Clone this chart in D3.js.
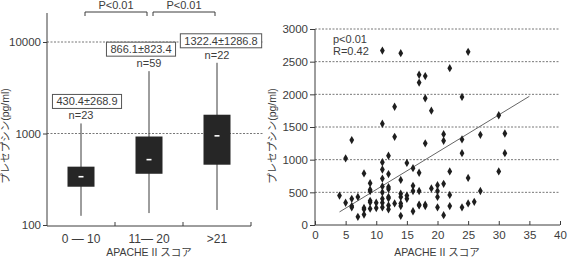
<!DOCTYPE html>
<html>
<head>
<meta charset="utf-8">
<script src="https://cdn.jsdelivr.net/npm/d3@7"></script>
<style>
  body { margin: 0; background: #fff; }
  svg { display: block; }
  text { font-family: "Liberation Sans", Arial, "Noto Sans CJK JP", sans-serif; fill: #3c3c3c; }
  .jp { font-family: "Liberation Sans", "Noto Sans CJK JP", sans-serif; }
</style>
</head>
<body>
<svg id="chart" width="568" height="268"></svg>
<script>
// left panel: presepsin by APACHE II group (log scale box plot)
const groups = ['0 \u2014 10', '11\u2014 20', '>21'];
const boxLow = [126, 135, 146];
const boxQ1 = [262, 363, 456];
const boxMedian = [337, 518, 943];
const boxQ3 = [434, 927, 1604];
const boxHigh = [1288, 4800, 5926];
const meanSd = ['430.4\u00b1268.9', '866.1\u00b1823.4', '1322.4\u00b11286.8'];
const groupN = ['n=23', 'n=59', 'n=22'];
const logTicks = [100, 1000, 10000];
const pairs = [[0, 1], [1, 2]];
const pLabels = ['P<0.01', 'P<0.01'];

// right panel: APACHE II score vs presepsin
const score = [4, 5, 5, 6, 6, 6, 6, 7, 7, 8, 8, 8, 8, 9, 9, 9, 9, 9, 9, 10, 10,
  11, 11, 11, 11, 11, 11, 11, 11, 11, 11, 12, 12, 12, 12, 12, 12, 12, 12,
  13, 13, 13, 14, 14, 14, 14, 14, 14, 14, 15, 15, 15, 16, 16, 16, 16,
  17, 17, 17, 17, 17, 17, 18, 18, 18, 18, 18, 19, 19, 20, 20, 20, 20,
  21, 21, 21, 21, 22, 22, 22, 22, 24, 24, 24, 24, 25, 25, 25, 26, 27, 27,
  30, 30, 31, 31];
const presepsin = [450, 1020, 340, 1300, 400, 290, 270, 430, 125, 790, 260, 240, 160, 640, 540, 520, 370, 350, 250, 340, 260,
  2670, 1550, 960, 850, 710, 590, 500, 400, 340, 270, 1060, 780, 580, 550, 430, 410, 300, 240,
  1810, 1350, 330, 2630, 690, 480, 430, 330, 290, 140, 950, 450, 400, 870, 600, 520, 210,
  2300, 2180, 800, 520, 310, 300, 2280, 1940, 1250, 310, 290, 1750, 560, 610, 520, 430, 270,
  1390, 1290, 630, 150, 2400, 820, 460, 290, 1960, 1310, 1100, 270, 2650, 720, 330, 355, 1380, 520,
  1680, 820, 1400, 1100];
const trendX = [4, 35];
const trendY = [200, 1970];
const scoreTicks = [0, 5, 10, 15, 20, 25, 30, 35, 40];
const linearTicks = [0, 500, 1000, 1500, 2000, 2500, 3000];

const svg = d3.select('svg#chart');
const ink = '#3c3c3c';

// ---------- left panel ----------
const xBand = d3.scaleBand().domain(groups).range([47, 251]);
const yLog = d3.scaleLog().domain([100, 10000]).range([225, 42]);
const cx = (d) => xBand(d) + xBand.bandwidth() / 2;

svg.append('g')
  .selectAll('line')
  .data(logTicks.slice(1))
  .join('line')
  .attr('x1', 47).attr('x2', 263)
  .attr('y1', (d) => yLog(d)).attr('y2', (d) => yLog(d))
  .attr('stroke', '#777')
  .attr('stroke-dasharray', '2,1.5');

const yAxisL = svg.append('g')
  .attr('transform', 'translate(47,0)')
  .call(d3.axisLeft(yLog).tickValues(logTicks).tickFormat(d3.format('d')).tickSize(4).tickPadding(2));
yAxisL.select('.domain').remove();

const xAxisL = svg.append('g')
  .attr('transform', 'translate(0,226)')
  .call(d3.axisBottom(xBand).tickSize(0).tickPadding(8));
xAxisL.select('.domain').remove();
xAxisL.selectAll('.tick text').attr('class', 'cat');

// band edge ticks pointing up
svg.append('g')
  .selectAll('line')
  .data(groups)
  .join('line')
  .attr('x1', (d) => xBand(d) + xBand.bandwidth())
  .attr('x2', (d) => xBand(d) + xBand.bandwidth())
  .attr('y1', 226).attr('y2', 222)
  .attr('stroke', ink);

svg.append('line').attr('x1', 47).attr('x2', 47).attr('y1', 13).attr('y2', 226).attr('stroke', ink);
svg.append('line').attr('x1', 47).attr('x2', xBand.range()[1]).attr('y1', 226).attr('y2', 226).attr('stroke', ink);

const boxW = 27;
const boxes = svg.append('g');
groups.forEach((g, i) => {
  const x = cx(g);
  boxes.append('line')
    .attr('x1', x).attr('x2', x)
    .attr('y1', yLog(boxHigh[i])).attr('y2', yLog(boxLow[i]))
    .attr('stroke', ink);
  boxes.append('rect')
    .attr('x', x - boxW / 2).attr('width', boxW)
    .attr('y', yLog(boxQ3[i])).attr('height', yLog(boxQ1[i]) - yLog(boxQ3[i]))
    .attr('fill', '#262626');
  boxes.append('line')
    .attr('x1', x - 2.5).attr('x2', x + 2.5)
    .attr('y1', yLog(boxMedian[i])).attr('y2', yLog(boxMedian[i]))
    .attr('stroke', '#fff').attr('stroke-width', 1.6);
});

// mean±SD boxes and n labels
const labelShift = [6, -8, 4];
groups.forEach((g, i) => {
  const top = yLog(boxHigh[i]);
  boxes.append('text')
    .attr('x', cx(g)).attr('y', top - 4)
    .attr('text-anchor', 'middle')
    .attr('font-size', '11px')
    .text(groupN[i]);
  const lx = cx(g) + labelShift[i];
  const t = boxes.append('text')
    .attr('x', lx).attr('y', top - 18)
    .attr('text-anchor', 'middle')
    .attr('font-size', '11px')
    .text(meanSd[i]);
  const w = t.node().getComputedTextLength() + 8;
  boxes.insert('rect', () => t.node())
    .attr('x', lx - w / 2).attr('width', w)
    .attr('y', top - 29).attr('height', 14)
    .attr('fill', '#fff')
    .attr('stroke', '#555');
});

// significance brackets
pairs.forEach((p, i) => {
  const x1 = cx(groups[p[0]]) + 4;
  const x2 = cx(groups[p[1]]) - 2;
  svg.append('path')
    .attr('d', `M${x1},16V12H${x2}V16`)
    .attr('fill', 'none')
    .attr('stroke', ink);
  svg.append('text')
    .attr('x', (x1 + x2) / 2).attr('y', 9)
    .attr('text-anchor', 'middle')
    .attr('font-size', '11px')
    .text(pLabels[i]);
});

svg.append('text')
  .attr('class', 'jp')
  .attr('x', 149).attr('y', 256)
  .attr('text-anchor', 'middle')
  .attr('font-size', '10.5px')
  .text('APACHE II スコア');

svg.append('text')
  .attr('class', 'jp')
  .attr('transform', 'translate(9,136) rotate(-90)')
  .attr('text-anchor', 'middle')
  .attr('font-size', '10.5px')
  .text('プレセプシン(pg/ml)');

// ---------- right panel ----------
const xLin = d3.scaleLinear().domain([0, 40]).range([315, 560]);
const yLin = d3.scaleLinear().domain([0, 3000]).range([225, 29]);

svg.append('g')
  .selectAll('line')
  .data(linearTicks.slice(1))
  .join('line')
  .attr('x1', 315).attr('x2', 560)
  .attr('y1', (d) => yLin(d)).attr('y2', (d) => yLin(d))
  .attr('stroke', '#777')
  .attr('stroke-dasharray', '2,1.5');

const yAxisR = svg.append('g')
  .attr('transform', 'translate(315,0)')
  .call(d3.axisLeft(yLin).tickValues(linearTicks).tickFormat(d3.format('d')).tickSize(5).tickPadding(2));
yAxisR.select('.domain').remove();

const xAxisR = svg.append('g')
  .attr('transform', 'translate(0,225)')
  .call(d3.axisBottom(xLin).tickValues(scoreTicks).tickSize(-4).tickPadding(6));
xAxisR.select('.domain').remove();

svg.append('line').attr('x1', 315).attr('x2', 315).attr('y1', 29).attr('y2', 225).attr('stroke', ink);
svg.append('line').attr('x1', 315).attr('x2', 560).attr('y1', 225).attr('y2', 225).attr('stroke', ink);

svg.selectAll('.tick text').attr('font-size', '11.5px').attr('fill', ink);
svg.selectAll('.tick text.cat').attr('font-size', '12px').attr('dy', '0.75em');
svg.selectAll('.tick line').attr('stroke', ink);

svg.append('line')
  .attr('x1', xLin(trendX[0])).attr('y1', yLin(trendY[0]))
  .attr('x2', xLin(trendX[1])).attr('y2', yLin(trendY[1]))
  .attr('stroke', '#666');

svg.append('g')
  .selectAll('path')
  .data(score)
  .join('path')
  .attr('transform', (d, i) => `translate(${xLin(d)},${yLin(presepsin[i])})`)
  .attr('d', d3.symbol(d3.symbolDiamond, 20))
  .attr('fill', '#1e1e1e');

svg.append('text').attr('x', 333).attr('y', 43).attr('font-size', '11px').text('p<0.01');
svg.append('text').attr('x', 333).attr('y', 55).attr('font-size', '11px').text('R=0.42');

svg.append('text')
  .attr('class', 'jp')
  .attr('x', 437).attr('y', 256)
  .attr('text-anchor', 'middle')
  .attr('font-size', '10.5px')
  .text('APACHE II スコア');

svg.append('text')
  .attr('class', 'jp')
  .attr('transform', 'translate(276,136) rotate(-90)')
  .attr('text-anchor', 'middle')
  .attr('font-size', '10.5px')
  .text('プレセプシン(pg/ml)');
</script>
</body>
</html>
